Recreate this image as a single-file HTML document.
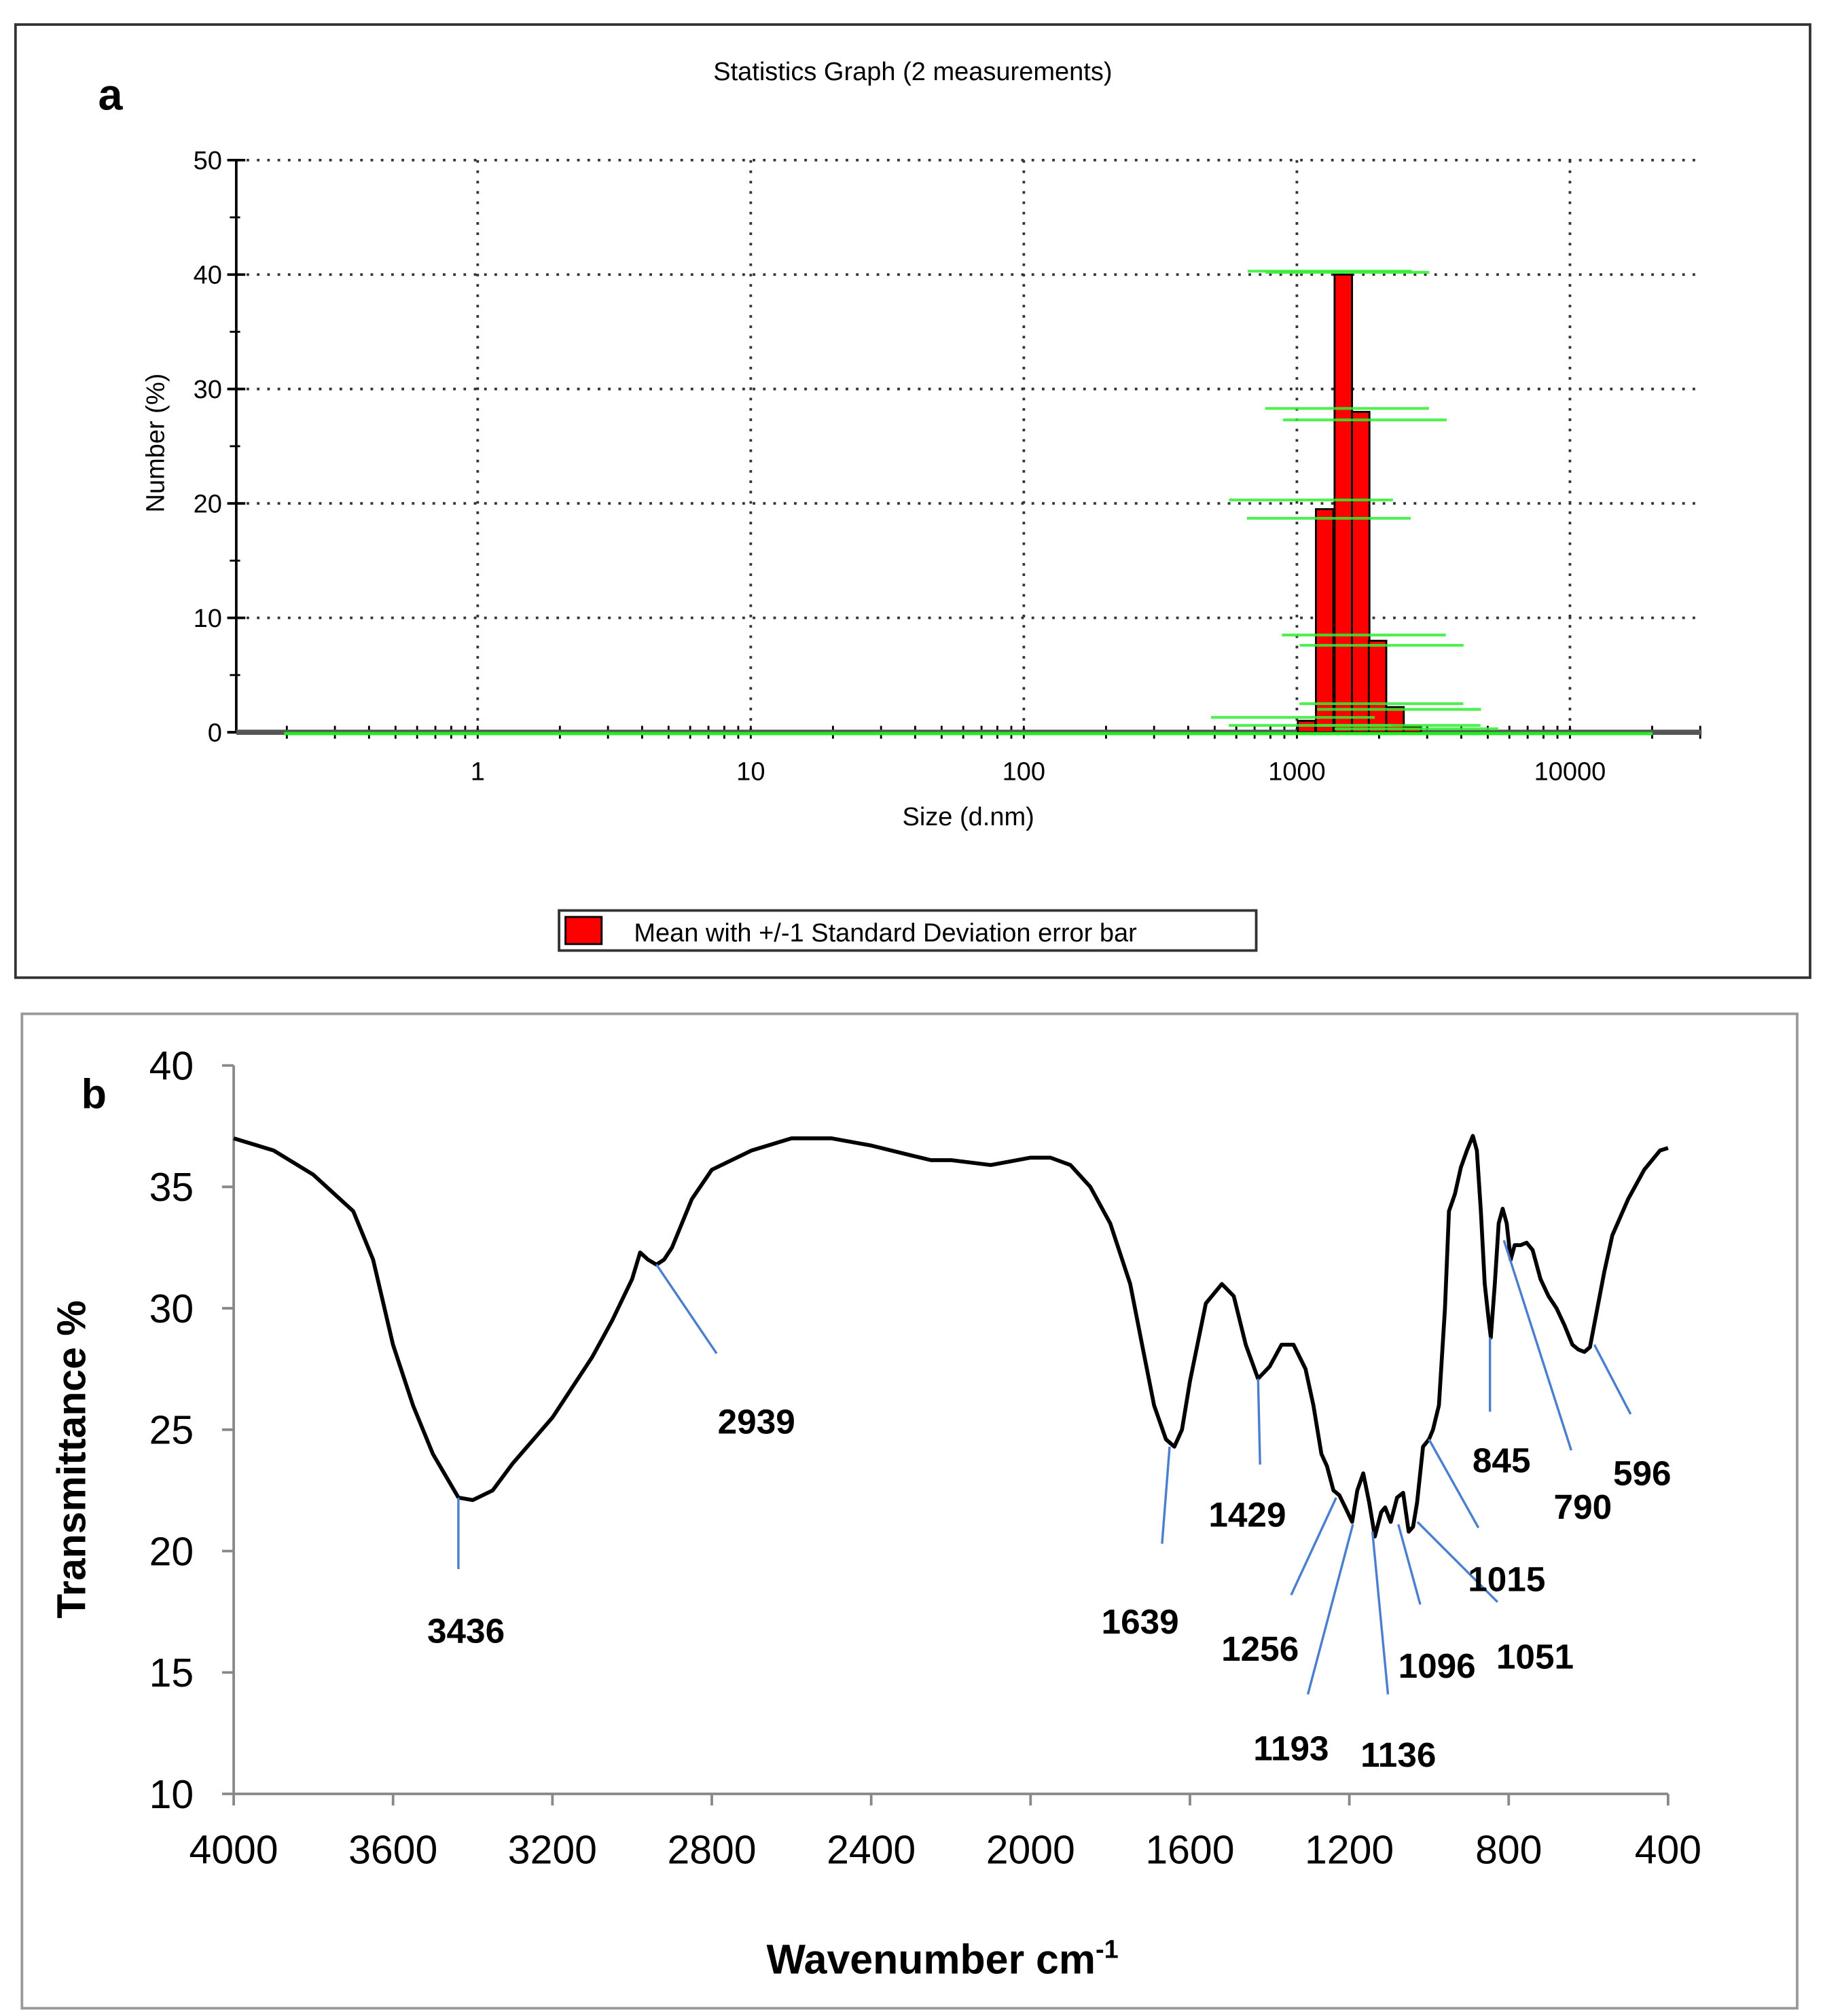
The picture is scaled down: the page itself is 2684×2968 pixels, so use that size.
<!DOCTYPE html>
<html><head><meta charset="utf-8">
<style>
html,body{margin:0;padding:0;background:#fff;}
svg{display:block;}
text{font-family:"Liberation Sans",Arial,sans-serif;}
</style></head>
<body>
<svg id="fig" width="2684" height="2968" viewBox="0 0 1412 1561" preserveAspectRatio="none" xmlns="http://www.w3.org/2000/svg">
  <g id="panelA">
    <rect x="12" y="19" width="1390" height="738" fill="#fff" stroke="#333" stroke-width="2"/>
    <text x="76" y="85" font-size="34" font-weight="bold">a</text>
    <text x="707" y="62" font-size="20" text-anchor="middle">Statistics Graph (2 measurements)</text>
    <text transform="translate(127,343) rotate(-90)" font-size="20" text-anchor="middle">Number (%)</text>
    <text x="750" y="639" font-size="20" text-anchor="middle">Size (d.nm)</text>
    <g>
      <rect x="433" y="705" width="540" height="31" fill="#fff" stroke="#333" stroke-width="2"/>
      <rect x="438" y="710" width="28" height="21" fill="#ff0000" stroke="#000" stroke-width="1.5"/>
      <text x="491" y="729" font-size="20">Mean with +/-1 Standard Deviation error bar</text>
    </g>
  </g>
  <g id="panelB">
    <rect x="17" y="785" width="1375" height="770" fill="#fff" stroke="#999" stroke-width="2"/>
    <text x="63" y="858" font-size="32" font-weight="bold">b</text>
    <text transform="translate(66,1130) rotate(-90)" font-size="31" font-weight="bold" text-anchor="middle">Transmittance %</text>
    <text x="730" y="1528" font-size="32" font-weight="bold" text-anchor="middle">Wavenumber cm<tspan font-size="20" dy="-12">-1</tspan></text>
  </g>
</svg>
<script>
// ---------- Panel A data ----------
const aXTicks = [1, 10, 100, 1000, 10000];
const aYTicks = [0, 10, 20, 30, 40, 50];
const aBinSizes = [1085, 1264, 1479, 1713, 1974, 2288, 2647];
const aBinValues = [1, 19.5, 40, 28, 8, 2.2, 0.5];
const aErrUpper = [1.3, 20.3, 40.3, 28.3, 8.5, 2.5, 0.6];
const aErrLower = [0.6, 18.7, 40.2, 27.3, 7.6, 2.0, 0.3];

// ---------- Panel B data ----------
const bXTicks = [4000, 3600, 3200, 2800, 2400, 2000, 1600, 1200, 800, 400];
const bYTicks = [10, 15, 20, 25, 30, 35, 40];
const bWave = [4000,3900,3800,3700,3650,3600,3550,3500,3450,3436,3400,3350,3300,3200,3100,3050,3000,2980,2960,2939,2920,2900,2850,2800,2700,2600,2500,2400,2300,2250,2200,2100,2000,1950,1900,1850,1800,1750,1720,1690,1660,1639,1620,1600,1560,1520,1490,1460,1429,1400,1370,1340,1310,1290,1270,1256,1240,1225,1210,1193,1180,1165,1150,1136,1120,1110,1096,1080,1065,1051,1040,1030,1015,1000,990,975,960,950,935,920,905,890,880,870,860,850,845,835,825,815,805,795,785,770,755,740,720,700,680,660,640,625,610,596,580,560,540,500,460,420,400];
const bTrans = [37.0,36.5,35.5,34.0,32.0,28.5,26.0,24.0,22.6,22.2,22.1,22.5,23.6,25.5,28.0,29.5,31.2,32.3,32.0,31.8,32.0,32.5,34.5,35.7,36.5,37.0,37.0,36.7,36.3,36.1,36.1,35.9,36.2,36.2,35.9,35.0,33.5,31.0,28.5,26.0,24.6,24.3,25.0,27.0,30.2,31.0,30.5,28.5,27.1,27.6,28.5,28.5,27.5,26.0,24.0,23.5,22.5,22.3,21.8,21.2,22.5,23.2,22.0,20.6,21.6,21.8,21.2,22.2,22.4,20.8,21.0,22.0,24.3,24.6,25.0,26.0,30.0,34.0,34.7,35.8,36.5,37.1,36.5,34.0,31.0,29.5,28.8,31.0,33.5,34.1,33.5,32.0,32.6,32.6,32.7,32.4,31.2,30.5,30.0,29.3,28.5,28.3,28.2,28.4,29.8,31.5,33.0,34.5,35.7,36.5,36.6];
const peakLabels = ["3436","2939","1639","1429","1256","1193","1136","1096","1051","1015","845","790","596"];
const peakWave = [3436,2939,1651,1429,1233,1191,1142,1077,1029,1000,847,812,585];
const peakT = [22.2,31.8,24.3,27.1,22.2,21.1,20.8,21.1,21.2,24.6,28.8,32.8,28.5];
const peakEndWave = [3436,2788,1670,1424,1346,1304,1103,1022,828,876,847,643,494];
const peakEndT = [19.26,28.14,20.3,23.56,18.19,14.1,14.1,17.8,17.9,20.96,25.74,24.15,25.64];
const peakLabelWave = [3417,2688,1725,1456,1424,1346,1077,980,734,805,818,614,465];
const peakLabelT = [16.76,25.37,17.13,21.54,16.01,11.91,11.65,15.32,15.69,18.88,23.78,21.86,23.24];

const NS = "http://www.w3.org/2000/svg";
const svg = document.getElementById('fig');
function mk(tag, attrs, parent) {
  const e = document.createElementNS(NS, tag);
  for (const k in attrs) e.setAttribute(k, attrs[k]);
  (parent || svg).appendChild(e);
  return e;
}

// ---------- Panel A ----------
const gA = document.getElementById('panelA');
const aX0 = 183, aX1 = 1318, aYtop = 124, aYbot = 567;
const ax = v => 370 + Math.log10(v) * 211.5;
const ay = v => aYbot - v / 50 * (aYbot - aYtop);
aYTicks.forEach(t => {
  if (t > 0) {
    const l = mk('line', {x1: aX0, x2: aX1, y1: ay(t), y2: ay(t), stroke: '#333', 'stroke-width': 2, 'stroke-dasharray': '2 6'}, gA);
    
    
  }
  const tx = mk('text', {x: 172, y: ay(t) + 7, 'font-size': 20, 'text-anchor': 'end'}, gA);
  tx.textContent = t;
  
  
  const tk = mk('line', {x1: 176, x2: 190, y1: ay(t), y2: ay(t), stroke: '#000', 'stroke-width': 2}, gA);
  
  
});
for (let t = 5; t < 50; t += 10) {
  const tk = mk('line', {x1: 178, x2: 186, y1: ay(t), y2: ay(t), stroke: '#000', 'stroke-width': 1.5}, gA);
  
  
}
aXTicks.forEach(t => {
  const l = mk('line', {x1: ax(t), x2: ax(t), y1: aYtop, y2: aYbot, stroke: '#333', 'stroke-width': 2, 'stroke-dasharray': '2 6'}, gA);
  
  
  const tx = mk('text', {x: ax(t), y: 604, 'font-size': 20, 'text-anchor': 'middle'}, gA);
  tx.textContent = t;
  
  
});
for (let d = -1; d <= 4; d++) {
  for (let m = 1; m <= 9; m++) {
    const v = m * Math.pow(10, d);
    const x = ax(v);
    if (x < aX0 || x > aX1) continue;
    const tk = mk('line', {x1: x, x2: x, y1: aYbot - 5, y2: aYbot + 5, stroke: '#000', 'stroke-width': 1.5}, gA);
    
    
  }
}
const yA = mk('line', {x1: aX0, x2: aX0, y1: aYtop, y2: aYbot, stroke: '#000', 'stroke-width': 2}, gA);


const xA = mk('line', {x1: aX0, x2: aX1, y1: aYbot, y2: aYbot, stroke: '#555', 'stroke-width': 4}, gA);


const halfBin = 0.032;
aBinSizes.forEach((s, i) => {
  const l = Math.log10(s);
  const x0 = 370 + (l - halfBin) * 211.5, x1 = 370 + (l + halfBin) * 211.5;
  const b = mk('rect', {x: x0, y: ay(aBinValues[i]), width: x1 - x0, height: aYbot - ay(aBinValues[i]), fill: '#ff0000', stroke: '#000', 'stroke-width': 1.5}, gA);
  
  
});
aBinSizes.forEach((s, i) => {
  const l = Math.log10(s);
  [[aErrUpper[i], -0.05], [aErrLower[i], 0.015]].forEach(([v, sh]) => {
    const xa = 370 + (l - 0.3 + sh) * 211.5, xb = 370 + (l + 0.3 + sh) * 211.5;
    const e = mk('line', {x1: xa, x2: xb, y1: ay(v), y2: ay(v), stroke: '#33ee33', 'stroke-width': 2.2, opacity: 0.85}, gA);
    
    
  });
});
const gb = mk('line', {x1: 220, x2: 1280, y1: aYbot + 1, y2: aYbot + 1, stroke: '#22ee22', 'stroke-width': 2.5}, gA);



// ---------- Panel B ----------
const gB = document.getElementById('panelB');
const bX0 = 181, bX1 = 1292, bYtop = 825, bYbot = 1389;
const bx = w => bX0 + (4000 - w) / 3600 * (bX1 - bX0);
const by = t => bYbot - (t - 10) / 30 * (bYbot - bYtop);
const yB = mk('line', {x1: bX0, x2: bX0, y1: bYtop, y2: bYbot, stroke: '#888', 'stroke-width': 2}, gB);


const xB = mk('line', {x1: bX0, x2: bX1, y1: bYbot, y2: bYbot, stroke: '#888', 'stroke-width': 2}, gB);


bYTicks.forEach(t => {
  const tk = mk('line', {x1: bX0 - 9, x2: bX0, y1: by(t), y2: by(t), stroke: '#888', 'stroke-width': 2}, gB);
  
  
  const tx = mk('text', {x: 150, y: by(t) + 11, 'font-size': 31, 'text-anchor': 'end'}, gB);
  tx.textContent = t;
  
  
});
bXTicks.forEach(t => {
  const tk = mk('line', {x1: bx(t), x2: bx(t), y1: bYbot, y2: bYbot + 9, stroke: '#888', 'stroke-width': 2}, gB);
  
  
  const tx = mk('text', {x: bx(t), y: 1443, 'font-size': 31, 'text-anchor': 'middle'}, gB);
  tx.textContent = t;
  
  
});
let d = '';
bWave.forEach((w, i) => { d += (i ? 'L' : 'M') + bx(w).toFixed(1) + ',' + by(bTrans[i]).toFixed(1); });
const curve = mk('path', {d: d, fill: 'none', stroke: '#000', 'stroke-width': 3, 'stroke-linejoin': 'round'}, gB);


peakLabels.forEach((lab, i) => {
  const ln = mk('line', {x1: bx(peakWave[i]), y1: by(peakT[i]), x2: bx(peakEndWave[i]), y2: by(peakEndT[i]), stroke: '#4a7fd0', 'stroke-width': 1.8}, gB);
  
  
  const tx = mk('text', {x: bx(peakLabelWave[i]), y: by(peakLabelT[i]) + 10, 'font-size': 27, 'font-weight': 'bold', 'text-anchor': 'middle'}, gB);
  tx.textContent = lab;
  
  
});
</script>
</body></html>
